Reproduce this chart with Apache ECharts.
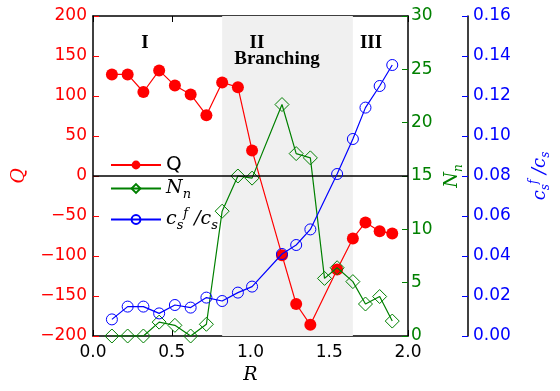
<!DOCTYPE html>
<html>
<head>
<meta charset="utf-8">
<script src="https://cdn.jsdelivr.net/npm/echarts@6/dist/echarts.min.js"></script>
<style>
  html, body { margin: 0; padding: 0; background: #fff; }
  #main { width: 560px; height: 391px; }
</style>
</head>
<body>
<div id="main"></div>
<script>
// R values for Q and c_s^f/c_s
var rVals = [0.12, 0.22, 0.32, 0.42, 0.52, 0.62, 0.72, 0.82, 0.92, 1.01, 1.20, 1.29, 1.38, 1.55, 1.65, 1.73, 1.82, 1.90];
// R values for N_n (one extra point at 1.47)
var rValsN = [0.12, 0.22, 0.32, 0.42, 0.52, 0.62, 0.72, 0.82, 0.92, 1.01, 1.20, 1.29, 1.38, 1.47, 1.55, 1.65, 1.73, 1.82, 1.90];
var qVals = [127, 127, 105, 132, 113, 102, 76, 117, 111, 32, -99, -160, -186, -117, -78, -58, -69, -72];
var nVals = [0, 0, 0, 1.3, 1.0, 0, 1.1, 11.7, 15.0, 14.8, 21.7, 17.1, 16.7, 5.4, 6.4, 5.1, 3.0, 3.7, 1.4];
var cVals = [0.0083, 0.0147, 0.0147, 0.0113, 0.0155, 0.0142, 0.0192, 0.0175, 0.0217, 0.0247, 0.041, 0.0455, 0.0533, 0.081, 0.0985, 0.1142, 0.125, 0.1355];
var branchRange = [0.82, 1.65];
var regionLabels = [
  { text: "I", x: 145, y: 43 },
  { text: "II", x: 257, y: 43 },
  { text: "Branching", x: 277, y: 59 },
  { text: "III", x: 371, y: 43 }
];

function pairs(xs, ys) {
  return xs.map(function (x, i) { return [x, ys[i]]; });
}

var RED = "#ff0000", GREEN = "#008000", BLUE = "#0000ff";
var tickFont = "DejaVu Sans";

function mathStyles(color, size) {
  size = size || 19;
  return {
    i: { fontFamily: "DejaVu Serif", fontStyle: "italic", fontSize: size, color: color },
    sub: { fontFamily: "DejaVu Serif", fontStyle: "italic", fontSize: size - 6, color: color, padding: [12, 0, 0, 0] },
    sup: { fontFamily: "DejaVu Serif", fontStyle: "italic", fontSize: size - 6, color: color, padding: [0, 0, 12, 0] }
  };
}
var nLabel = "{i|N}{sub|n}";
var cLabel = "{i|c}{sub|s}{sup|f}{i| /c}{sub|s}";
function legendText(name) {
  if (name === "Q") return "Q";
  if (name === "Nn") return nLabel;
  return cLabel;
}
function minus(v) {
  return String(v).replace("-", "\u2212");
}

var myChart = echarts.init(document.getElementById("main"));

var legendBase = {
  orient: "vertical",
  itemWidth: 50,
  itemHeight: 11,
  textStyle: { fontFamily: tickFont, fontSize: 20, color: "#000", rich: mathStyles("#000") },
  formatter: legendText,
  selectedMode: false
};

var option = {
  animation: false,
  backgroundColor: "#fff",
  grid: { left: 93, right: 152, top: 16, bottom: 55 },
  legend: [
    Object.assign({}, legendBase, { data: ["Q"], left: 105, top: 150 }),
    Object.assign({}, legendBase, { data: ["Nn"], left: 105, top: 174 }),
    Object.assign({}, legendBase, { data: ["cs"], left: 105, top: 202 })
  ],
  xAxis: [
    {
      type: "value", min: 0, max: 2, interval: 0.5, position: "bottom",
      axisLine: { onZero: false, lineStyle: { color: "#000", width: 1.5 } },
      axisTick: { inside: true, length: 6, lineStyle: { color: "#000" } },
      axisLabel: { color: "#000", fontFamily: tickFont, fontSize: 17, margin: 8,
        formatter: function (v) { return v.toFixed(1); } },
      splitLine: { show: false },
      name: "R", nameLocation: "middle", nameGap: 30,
      nameTextStyle: { fontFamily: "DejaVu Serif", fontStyle: "italic", fontSize: 19, color: "#000" }
    },
    {
      type: "value", min: 0, max: 2, interval: 0.5, position: "top",
      axisLine: { onZero: false, lineStyle: { color: "#000", width: 1.5 } },
      axisTick: { inside: true, length: 6, lineStyle: { color: "#000" } },
      axisLabel: { show: false },
      splitLine: { show: false }
    }
  ],
  yAxis: [
    {
      type: "value", min: -200, max: 200, interval: 50, position: "left",
      axisLine: { onZero: false, lineStyle: { color: "#000", width: 1.5 } },
      axisTick: { inside: true, length: 6, lineStyle: { color: RED } },
      axisLabel: { color: RED, fontFamily: tickFont, fontSize: 17, margin: 6, formatter: minus },
      splitLine: { show: false },
      name: "Q", nameLocation: "middle", nameGap: 64, nameRotate: 90,
      nameTextStyle: { fontFamily: "DejaVu Serif", fontStyle: "italic", fontSize: 19, color: RED }
    },
    {
      type: "value", min: 0, max: 30, interval: 5, position: "right",
      axisLine: { onZero: false, lineStyle: { color: "#000", width: 1.5 } },
      axisTick: { inside: true, length: 6, lineStyle: { color: GREEN } },
      axisLabel: { color: GREEN, fontFamily: tickFont, fontSize: 17, margin: 3 },
      splitLine: { show: false },
      name: nLabel, nameLocation: "middle", nameGap: 30, nameRotate: 90,
      nameTextStyle: { color: GREEN, rich: mathStyles(GREEN, 18) }
    },
    {
      type: "value", min: 0, max: 0.16, interval: 0.02, position: "right", offset: 60,
      axisLine: { onZero: false, lineStyle: { color: "#000", width: 1.5 } },
      axisTick: { inside: true, length: 6, lineStyle: { color: BLUE } },
      axisLabel: { color: BLUE, fontFamily: tickFont, fontSize: 17, margin: 5,
        formatter: function (v) { return v.toFixed(2); } },
      splitLine: { show: false },
      name: cLabel, nameLocation: "middle", nameGap: 60, nameRotate: 90,
      nameTextStyle: { color: BLUE, rich: mathStyles(BLUE, 18) }
    }
  ],
  graphic: regionLabels.map(function (t) {
    return {
      type: "text", x: t.x, y: t.y, z: 100,
      style: {
        text: t.text, textAlign: "center", textVerticalAlign: "middle",
        fontFamily: "Liberation Serif", fontWeight: "bold", fontSize: 19, fill: "#000"
      }
    };
  }),
  series: [
    {
      // shaded branching region and the Q = 0 line
      type: "line", name: "bg", data: [], xAxisIndex: 0, yAxisIndex: 0, z: 1,
      silent: true,
      markArea: {
        silent: true,
        itemStyle: { color: "#f0f0f0" },
        data: [[{ xAxis: branchRange[0] }, { xAxis: branchRange[1] }]]
      },
      markLine: {
        silent: true, symbol: "none",
        label: { show: false },
        lineStyle: { color: "#000", type: "solid", width: 1.5 },
        data: [{ yAxis: 0 }]
      }
    },
    {
      type: "line", name: "Q", xAxisIndex: 0, yAxisIndex: 0, z: 3,
      data: pairs(rVals, qVals),
      symbol: "circle", symbolSize: 12,
      itemStyle: { color: RED },
      lineStyle: { color: RED, width: 1.2 }
    },
    {
      type: "line", name: "Nn", xAxisIndex: 0, yAxisIndex: 1, z: 4,
      data: pairs(rValsN, nVals),
      symbol: "diamond", symbolSize: 14,
      itemStyle: { color: "rgba(0,0,0,0)", borderColor: GREEN, borderWidth: 1 },
      lineStyle: { color: GREEN, width: 1.2 }
    },
    {
      type: "line", name: "cs", xAxisIndex: 0, yAxisIndex: 2, z: 5,
      data: pairs(rVals, cVals),
      symbol: "circle", symbolSize: 11,
      itemStyle: { color: "rgba(0,0,0,0)", borderColor: BLUE, borderWidth: 1 },
      lineStyle: { color: BLUE, width: 1.2 }
    }
  ]
};

myChart.setOption(option);
</script>
</body>
</html>
